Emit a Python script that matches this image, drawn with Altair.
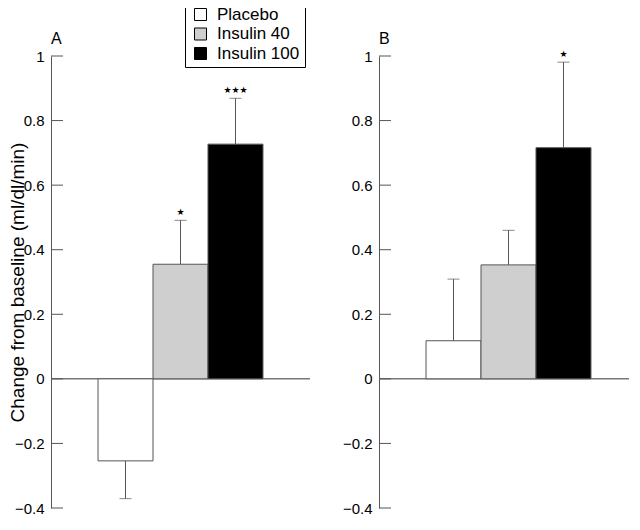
import altair as alt
import pandas as pd

groups = ["Placebo", "Insulin 40", "Insulin 100"]
fills = ["#ffffff", "#cfcfcf", "#000000"]

a_means = [-0.254, 0.355, 0.727]
a_err_ends = [-0.371, 0.491, 0.869]
a_stars = ["", "★", "★★★"]

b_means = [0.118, 0.353, 0.716]
b_err_ends = [0.309, 0.46, 0.981]
b_stars = ["", "", "★"]

y_ticks = [-0.4, -0.2, 0, 0.2, 0.4, 0.6, 0.8, 1]

FONT = "Liberation Sans"
GREY = "#555555"
PW = 259
PH = 452


def panel(means, errs, stars, label, ytitle):
    df = pd.DataFrame({"group": groups, "mean": means, "err": errs, "star": stars})
    ticks_df = pd.DataFrame({"t": y_ticks})
    xenc = alt.X("group:N", sort=groups, axis=None,
                 scale=alt.Scale(paddingInner=0, paddingOuter=0.855))
    yscale = alt.Scale(domain=[-0.4, 1], nice=False, zero=False)
    axis_kw = dict(values=y_ticks, format="~g", ticks=False, grid=False,
                   domainColor=GREY, domainWidth=1,
                   labelFont=FONT, labelFontSize=15, labelColor="black", labelPadding=7,
                   titleFont=FONT, titleFontSize=19, titleFontWeight="normal",
                   titleColor="black")
    if ytitle:
        yaxis = alt.Axis(title=ytitle, titleX=-28, titleBaseline="alphabetic", **axis_kw)
    else:
        yaxis = alt.Axis(title=None, **axis_kw)
    legend = alt.Legend(orient="none", legendX=134, legendY=-55, title=None,
                        symbolType="square", symbolSize=144, symbolStrokeColor="black",
                        symbolStrokeWidth=1, symbolOffset=2,
                        labelFont=FONT, labelFontSize=17,
                        labelColor="black", labelOffset=8, strokeColor="black",
                        fillColor="white", padding=5, rowPadding=1.5)
    base = alt.Chart(df)
    bars = base.mark_bar(stroke=GREY, strokeWidth=1).encode(
        x=xenc,
        y=alt.Y("mean:Q", scale=yscale, axis=yaxis),
        y2=alt.datum(0),
        color=alt.Color("group:N", sort=groups,
                        scale=alt.Scale(domain=groups, range=fills), legend=legend),
    )
    errline = base.mark_rule(color=GREY, strokeWidth=1).encode(
        x=xenc, y=alt.Y("mean:Q", scale=yscale, axis=yaxis), y2="err:Q")
    caps = base.mark_tick(color=GREY, size=12, thickness=1, orient="horizontal").encode(
        x=xenc, y=alt.Y("err:Q", scale=yscale, axis=yaxis))
    starmarks = base.mark_text(color="black", fontSize=9, dy=-8, font="DejaVu Sans").encode(
        x=xenc, y=alt.Y("err:Q", scale=yscale, axis=yaxis), text="star:N")
    zero = alt.Chart(pd.DataFrame({"z": [0]})).mark_rule(color="#777777", strokeWidth=1.5).encode(
        y=alt.Y("z:Q", scale=yscale, axis=yaxis))
    tickmarks = alt.Chart(ticks_df).mark_rule(color=GREY, strokeWidth=1).encode(
        y=alt.Y("t:Q", scale=yscale, axis=yaxis), x=alt.value(0), x2=alt.value(12))
    return alt.layer(zero, bars, errline, caps, starmarks, tickmarks).properties(
        width=PW, height=PH,
        title=alt.TitleParams(label, anchor="start", frame="group", font=FONT, fontSize=16,
                              fontWeight="normal", color="black", offset=2),
    )


pa = panel(a_means, a_err_ends, a_stars, "A", "Change from baseline (ml/dl/min)")
pb = panel(b_means, b_err_ends, b_stars, "B", None)

chart = alt.hconcat(pa, pb, spacing=69, bounds="flush").properties(
    padding={"left": 0, "top": -8, "right": -10, "bottom": -1}
).configure_view(stroke=None)

chart.save("out.html", embed_options={"renderer": "svg", "actions": False})
